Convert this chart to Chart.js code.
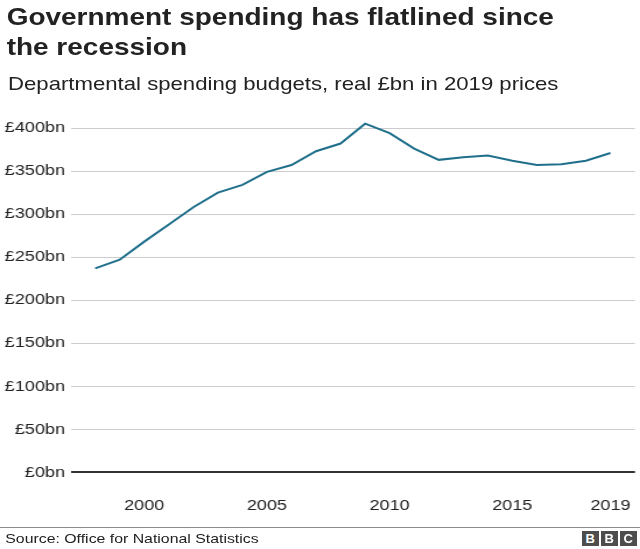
<!DOCTYPE html>
<html><head><meta charset="utf-8">
<script src="https://cdn.jsdelivr.net/npm/chart.js@4"></script>
<style>
html,body{margin:0;padding:0;background:#fff;width:640px;height:549px;overflow:hidden;}
#wrap{position:absolute;left:0;top:0;width:549px;height:549px;transform:scaleX(1.16576);transform-origin:0 0;font-family:"Liberation Sans",Arial,Helvetica,sans-serif;color:#222;}
#title{position:absolute;left:5.7px;top:2.2px;font-weight:bold;font-size:24px;line-height:30px;white-space:nowrap;}
#subtitle{position:absolute;left:6.9px;top:73.4px;font-size:19px;line-height:22px;white-space:nowrap;}
#chart{position:absolute;left:0;top:0;}
#sep{position:absolute;left:0;top:527px;width:549px;height:1px;background:#8c8c8c;}
#source{position:absolute;left:4.5px;top:531.3px;font-size:13.6px;line-height:16px;white-space:nowrap;}
.bbc{position:absolute;top:530.7px;width:17px;height:15.5px;background:#4d4d4d;color:#fff;font-family:"Liberation Sans",Arial,sans-serif;font-weight:bold;font-size:13px;line-height:15.5px;text-align:center;}
</style></head>
<body>
<div id="wrap">
  <div id="title">Government spending has flatlined since<br>the recession</div>
  <div id="subtitle">Departmental spending budgets, real £bn in 2019 prices</div>
  <canvas id="chart" width="549" height="549"></canvas>
  <div id="sep"></div>
  <div id="source">Source: Office for National Statistics</div>
</div>
<div class="bbc" style="left:581.7px">B</div>
<div class="bbc" style="left:600.7px">B</div>
<div class="bbc" style="left:619.7px">C</div>
<script>
const years = [1998,1999,2000,2001,2002,2003,2004,2005,2006,2007,2008,2009,2010,2011,2012,2013,2014,2015,2016,2017,2018,2019];
const spending = [237,247,268,288,308,325,334,349,357,373,382,405,394,376,363,366,368,362,357,358,362,371];
const xTickValues = [2000,2005,2010,2015,2019];
const xTickLabels = ['2000','2005','2010','2015','2019'];
const yTickValues = [0,50,100,150,200,250,300,350,400];
const yTickLabels = ['£0bn','£50bn','£100bn','£150bn','£200bn','£250bn','£300bn','£350bn','£400bn'];

const FONT = '"Liberation Sans", Arial, Helvetica, sans-serif';

new Chart(document.getElementById('chart'), {
  type: 'line',
  data: {
    datasets: [{
      data: years.map((y, i) => ({x: y, y: spending[i]})),
      borderColor: '#1f6f8b',
      borderWidth: 2,
      pointRadius: 0,
      tension: 0,
      fill: false
    }]
  },
  options: {
    responsive: false,
    animation: false,
    devicePixelRatio: 1,
    layout: {padding: {top: 110.8, bottom: 36.7, left: 0, right: 4.3}},
    plugins: {legend: {display: false}, tooltip: {enabled: false}, title: {display: false}},
    scales: {
      x: {
        type: 'linear', min: 1997, max: 2020,
        afterBuildTicks: a => { a.ticks = xTickValues.map(v => ({value: v})); },
        afterFit: s => { s.height = 40; s.paddingLeft = 0; s.paddingRight = 0; },
        grid: {display: false, drawTicks: false},
        border: {display: false},
        ticks: {
          padding: 24, color: '#222', maxRotation: 0, autoSkip: false,
          font: {size: 15.5, family: FONT},
          callback: v => { const i = xTickValues.indexOf(v); return i >= 0 ? xTickLabels[i] : ''; }
        }
      },
      y: {
        min: 0, max: 420,
        afterBuildTicks: a => { a.ticks = yTickValues.map(v => ({value: v})); },
        afterFit: s => { s.width = 60.6; s.paddingTop = 0; s.paddingBottom = 0; },
        grid: {
          drawTicks: false,
          color: c => (c.tick && c.tick.value === 0) ? '#333' : '#cccccc',
          lineWidth: c => (c.tick && c.tick.value === 0) ? 2 : 1
        },
        border: {display: false},
        ticks: {
          padding: 4.8, color: '#222',
          font: {size: 15.5, family: FONT},
          callback: v => { const i = yTickValues.indexOf(v); return i >= 0 ? yTickLabels[i] : ''; }
        }
      }
    }
  }
});
</script>
</body></html>
